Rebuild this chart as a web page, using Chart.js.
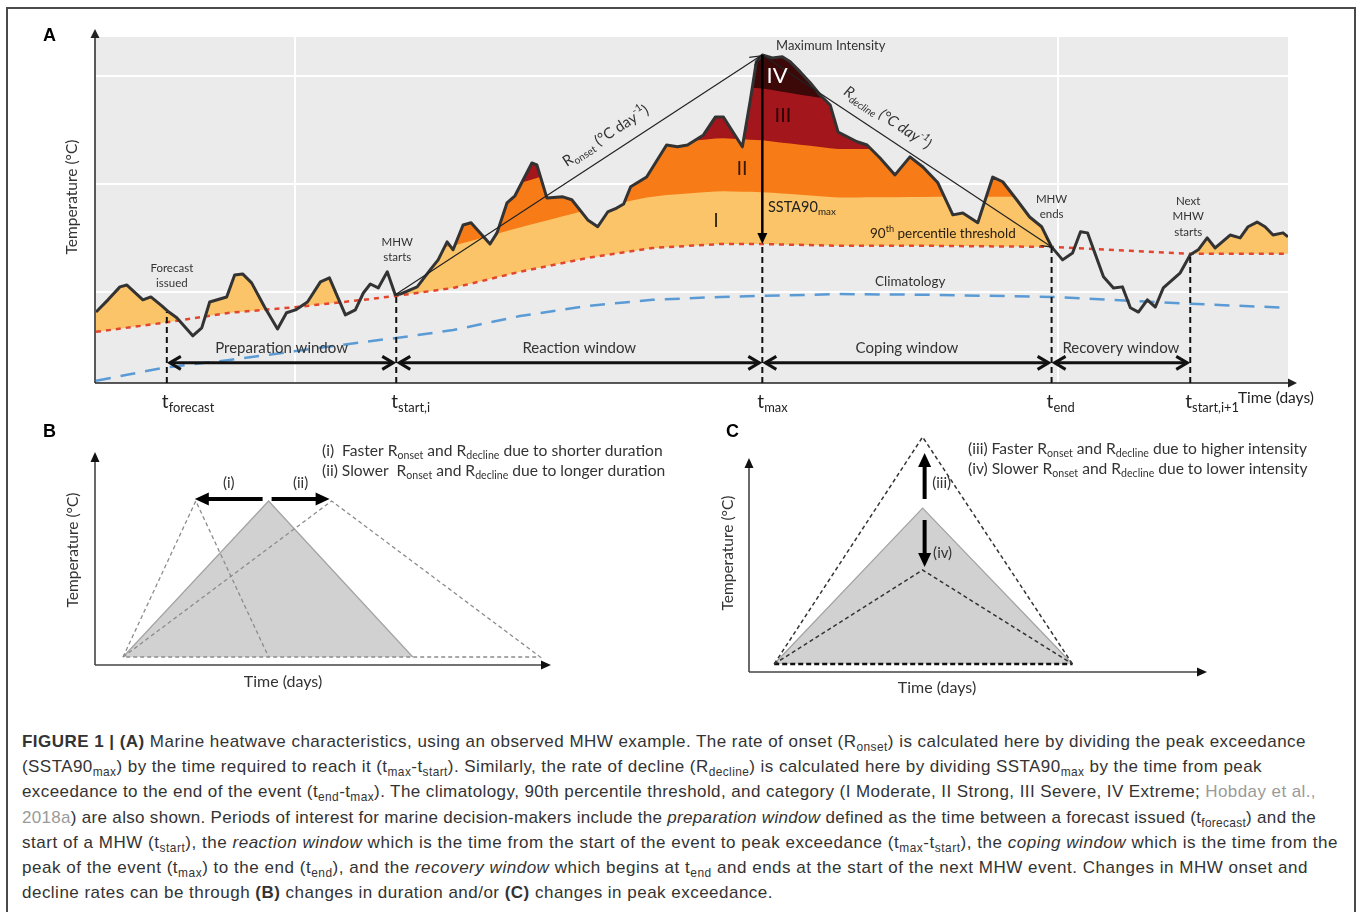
<!DOCTYPE html>
<html>
<head>
<meta charset="utf-8">
<title>Marine heatwave characteristics</title>
<script src="https://cdn.jsdelivr.net/npm/chart.js@4.4.1/dist/chart.umd.min.js"></script>
<style>
  html, body { margin: 0; padding: 0; background: #fff; }
  body { width: 1358px; height: 912px; position: relative; overflow: hidden; font-family: "Liberation Sans", Arial, sans-serif; }
  #frame { position: absolute; left: 6px; top: 7px; width: 1346px; height: 930px; border: 2px solid #4a4a4a; }
  canvas { position: absolute; }
  #chartA { left: 0; top: 0; }
  #chartB { left: 0; top: 420px; }
  #chartC { left: 680px; top: 420px; }
  #caption { position: absolute; left: 22px; top: 729px; font-size: 17px; line-height: 25.2px; color: #333; }
  #caption .ln { display: block; white-space: nowrap; }
  #caption .ln span.t { display: inline-block; }
  #caption sub { font-size: 0.7em; vertical-align: -0.3em; line-height: 0; }
  #caption .ref { color: #9a9a9a; }
</style>
</head>
<body>
<div id="frame"></div>
<canvas id="chartA" width="1358" height="420"></canvas>
<canvas id="chartB" width="680" height="290"></canvas>
<canvas id="chartC" width="678" height="290"></canvas>
<div id="caption">
  <div class="ln"><span class="t"><b>FIGURE 1 | (A)</b> Marine heatwave characteristics, using an observed MHW example. The rate of onset (R<sub>onset</sub>) is calculated here by dividing the peak exceedance</span></div>
  <div class="ln"><span class="t">(SSTA90<sub>max</sub>) by the time required to reach it (t<sub>max</sub>-t<sub>start</sub>). Similarly, the rate of decline (R<sub>decline</sub>) is calculated here by dividing SSTA90<sub>max</sub> by the time from peak</span></div>
  <div class="ln"><span class="t">exceedance to the end of the event (t<sub>end</sub>-t<sub>max</sub>). The climatology, 90th percentile threshold, and category (I Moderate, II Strong, III Severe, IV Extreme; <span class="ref">Hobday et al.,</span></span></div>
  <div class="ln"><span class="t"><span class="ref">2018a</span>) are also shown. Periods of interest for marine decision-makers include the <i>preparation window</i> defined as the time between a forecast issued (t<sub>forecast</sub>) and the</span></div>
  <div class="ln"><span class="t">start of a MHW (t<sub>start</sub>), the <i>reaction window</i> which is the time from the start of the event to peak exceedance (t<sub>max</sub>-t<sub>start</sub>), the <i>coping window</i> which is the time from the</span></div>
  <div class="ln"><span class="t">peak of the event (t<sub>max</sub>) to the end (t<sub>end</sub>), and the <i>recovery window</i> which begins at t<sub>end</sub> and ends at the start of the next MHW event. Changes in MHW onset and</span></div>
  <div class="ln"><span class="t">decline rates can be through <b>(B)</b> changes in duration and/or <b>(C)</b> changes in peak exceedance.</span></div>
</div>
<script>
  // ---- panel A: observed temperature series (days, °C) ----
  const tempDays = [0, 1.2, 2.4, 3.1, 4.7, 5.5, 6.6, 7.3, 8.1, 9.7, 10.6, 11.4, 13.1, 13.9, 14.7, 15.6, 16.9, 18.2,
    19.1, 20.0, 21.2, 22.5, 23.4, 25.0, 26.0, 26.8, 27.5, 28.3, 29.2, 30.0, 30.5, 32.2, 33.5, 34.3, 35.2, 35.8,
    36.8, 37.6, 39.5, 40.2, 41.2, 42.0, 43.7, 44.2, 45.2, 46.8, 47.7, 49.3, 50.3, 51.3, 52.2, 52.9, 53.6, 55.2,
    57.2, 58.3, 59.3, 60.9, 62.1, 62.9, 64.8, 65.6, 66.2, 66.8, 67.8, 68.8, 69.6, 70.6, 71.6, 72.6, 73.6, 74.4,
    76.3, 77.3, 78.6, 80.1, 81.6, 82.9, 84.4, 85.9, 86.9, 88.4, 89.9, 90.9, 92.3, 93.6, 94.8, 95.8, 96.9, 97.9,
    98.7, 99.4, 101.0, 102.0, 102.9, 103.7, 104.5, 105.4, 106.2, 107.0, 108.7, 109.7, 110.5, 111.4, 112.2, 113.7,
    114.7, 115.5, 116.4, 117.2, 118.0, 119.0, 119.5];
  const tempVals = [14.44, 14.78, 15.14, 15.19, 14.78, 14.86, 14.61, 14.44, 14.28, 13.78, 14.0, 14.72, 14.86, 15.47, 15.5, 15.25, 14.58, 13.97,
    14.42, 14.5, 14.72, 15.28, 15.39, 14.36, 14.5, 14.97, 15.22, 15.11, 15.56, 14.92, 14.94, 15.14, 15.61, 15.89, 16.39, 16.17,
    16.86, 16.92, 16.33, 16.64, 17.47, 17.67, 18.58, 18.53, 17.61, 17.64, 17.56, 17.0, 16.81, 17.22, 17.33, 17.44, 17.92, 18.19,
    19.08, 19.03, 19.08, 19.36, 19.86, 19.86, 19.03, 20.33, 21.39, 21.58, 21.5, 21.53, 21.39, 21.11, 20.81, 20.47, 20.19, 19.44,
    19.17, 19.08, 18.72, 18.25, 18.75, 18.47, 18.03, 17.14, 17.19, 16.92, 18.19, 18.06, 17.56, 17.08, 16.81, 16.25, 15.89, 16.08,
    16.67, 16.64, 15.42, 15.11, 15.14, 14.56, 14.44, 14.78, 14.58, 15.11, 15.53, 16.03, 16.17, 16.5, 16.22, 16.58,
    16.5, 16.81, 16.94, 16.81, 16.58, 16.64, 16.53];

  // climatology and 90th percentile threshold, read on a shared day grid
  const climDays = [0, 6.7, 13.4, 20.1, 26.8, 30.1, 35.8, 42.5, 49.2, 55.8, 62.6, 66.8, 74.6, 83.6, 95.8, 103.7, 109.7, 119.5];
  const threshVals = [13.89, 14.14, 14.42, 14.58, 14.78, 14.89, 15.11, 15.56, 15.94, 16.22, 16.33, 16.33, 16.28, 16.28, 16.25, 16.14, 16.06, 16.06];
  const climVals = [12.53, 12.89, 13.11, 13.36, 13.61, 13.72, 13.94, 14.33, 14.61, 14.78, 14.86, 14.89, 14.94, 14.92, 14.86, 14.75, 14.67, 14.56];

  // periods shaded as exceedance (days)
  const fillRanges = [[0, 8.2], [10.6, 18.3], [19.1, 25.0], [29.9, 97.0], [109.6, 119.6]];
  // category I (moderate) .. IV (extreme)
  const catColors = ['#fcc468', '#f77b17', '#a3161b', '#3c0808'];

  // event times, labels and where their dashed markers stop (°C)
  const eventDays = [7.1, 30.1, 66.8, 95.8, 109.7];
  const eventSubs = ['forecast', 'start,i', 'max', 'end', 'start,i+1'];
  const markerTops = [14.44, 14.89, 16.33, 16.25, 16.06];
  const windowNames = ['Preparation window', 'Reaction window', 'Coping window', 'Recovery window'];
  const windowLevel = 13.03;
  const gridDays = [20, 96.4];
  const gridTemps = [15, 18, 21];

  // ---- panel B: duration change (days, °C) ----
  const bShortDays = [2, 7.2, 12.4];
  const bMainDays = [2, 12.4, 22.7];
  const bLongDays = [2, 16.9, 31.8];
  const bTemps = [0.4, 8.2, 0.4];

  // ---- panel C: intensity change ----
  const cDays = [1.8, 12.4, 23.1];
  const cMainTemps = [0.4, 8.2, 0.4];
  const cHighTemps = [0.4, 11.75, 0.4];
  const cLowTemps = [0.4, 5.1, 0.4];

  const FONT = 'Lato, "Open Sans", sans-serif';
  Chart.defaults.font.family = FONT;

  function seg(ctx, x1, y1, x2, y2) {
    ctx.beginPath();
    ctx.moveTo(x1, y1);
    ctx.lineTo(x2, y2);
    ctx.stroke();
  }

  function head(ctx, x, y, ang, len, half, filled) {
    const c = Math.cos(ang), s = Math.sin(ang);
    ctx.beginPath();
    ctx.moveTo(x - len * c - half * s, y - len * s + half * c);
    ctx.lineTo(x, y);
    ctx.lineTo(x - len * c + half * s, y - len * s - half * c);
    if (filled) {
      ctx.closePath();
      ctx.fill();
    } else {
      ctx.stroke();
    }
  }

  // text with sub/superscripts: parts = ['text', ['sub text', 'sub'], ...]
  function richText(ctx, parts, x, y, size, opts = {}) {
    const segs = parts.map((p) => {
      const [t, k] = typeof p === 'string' ? [p, ''] : p;
      const s = k ? size * 0.68 : size;
      const font = [opts.style, opts.weight, s + 'px', opts.family || FONT].filter(Boolean).join(' ');
      ctx.font = font;
      return { t, font, w: ctx.measureText(t).width, dy: k === 'sub' ? size * 0.32 : k === 'sup' ? -size * 0.36 : 0 };
    });
    const total = segs.reduce((a, g) => a + g.w, 0);
    let cx = opts.align === 'center' ? x - total / 2 : opts.align === 'right' ? x - total : x;
    ctx.textAlign = 'left';
    ctx.textBaseline = 'middle';
    ctx.fillStyle = opts.color || '#333';
    segs.forEach((g) => {
      ctx.font = g.font;
      ctx.fillText(g.t, cx, y + g.dy);
      cx += g.w;
    });
    return total;
  }

  function rotatedText(ctx, parts, x, y, ang, size, opts = {}) {
    ctx.save();
    ctx.translate(x, y);
    ctx.rotate(ang);
    richText(ctx, parts, 0, 0, size, Object.assign({ align: 'center' }, opts));
    ctx.restore();
  }

  function drawAxes(chart, topVal) {
    const { ctx, chartArea: a, scales } = chart;
    const top = scales.y.getPixelForValue(topVal);
    ctx.strokeStyle = '#444';
    ctx.fillStyle = '#111';
    ctx.lineWidth = 1.6;
    seg(ctx, a.left, a.bottom, a.left, top + 6);
    head(ctx, a.left, top, -Math.PI / 2, 10, 4.5, true);
    seg(ctx, a.left, a.bottom, a.right - 6, a.bottom);
    head(ctx, a.right, a.bottom, 0, 10, 4.5, true);
  }

  // ---------------- Panel A ----------------
  const inFill = (d) => fillRanges.some(([a, b]) => d >= a && d <= b);
  const tempPts = tempDays.map((d, i) => ({ x: d, y: tempVals[i] }));
  const threshPts = climDays.map((d, i) => ({ x: d, y: threshVals[i] }));
  const climPts = climDays.map((d, i) => ({ x: d, y: climVals[i] }));

  // value of a piecewise-linear series at x
  function at(xs, ys, x) {
    let i = 1;
    while (i < xs.length - 1 && xs[i] < x) i++;
    const f = (x - xs[i - 1]) / (xs[i] - xs[i - 1]);
    return ys[i - 1] + f * (ys[i] - ys[i - 1]);
  }
  // category k lower edge = threshold + k * (threshold - climatology)
  function level(k, x) {
    const t = at(climDays, threshVals, x);
    return t + k * (t - at(climDays, climVals, x));
  }
  // top = temperature where it exceeds the category edge, base = category edge
  function band(k) {
    const top = [];
    const base = [];
    const push = (x, y) => {
      const b = level(k, x);
      top.push({ x, y: inFill(x) ? Math.max(y, b) : null });
      base.push({ x, y: b });
    };
    tempDays.forEach((d, i) => {
      push(d, tempVals[i]);
      if (i + 1 < tempDays.length) {
        const d2 = tempDays[i + 1];
        const e1 = tempVals[i] - level(k, d);
        const e2 = tempVals[i + 1] - level(k, d2);
        if (e1 * e2 < 0) {
          const f = e1 / (e1 - e2);
          push(d + f * (d2 - d), tempVals[i] + f * (tempVals[i + 1] - tempVals[i]));
        }
      }
    });
    return { top, base };
  }

  const clear = 'rgba(0,0,0,0)';
  const bandSets = [3, 2, 1, 0].flatMap((k) => {
    const b = band(k);
    return [
      { data: b.top, borderColor: clear, borderWidth: 1, backgroundColor: catColors[k], fill: '+1' },
      { data: b.base, borderColor: clear, borderWidth: 1, fill: false },
    ];
  });

  const peakVal = Math.max(...tempVals);
  const peakDay = tempDays[tempVals.indexOf(peakVal)];
  const startIdx = tempDays.reduce((b, d, i) => (Math.abs(d - eventDays[1]) < Math.abs(tempDays[b] - eventDays[1]) ? i : b), 0);

  const panelA = {
    id: 'panelA',
    beforeDraw(chart) {
      const { ctx, chartArea: a } = chart;
      ctx.save();
      ctx.fillStyle = '#ebebeb';
      ctx.fillRect(a.left, a.top, a.right - a.left, a.bottom - a.top);
      ctx.restore();
    },
    afterDatasetsDraw(chart) {
      const { ctx, chartArea: a, scales } = chart;
      const X = (v) => scales.x.getPixelForValue(v);
      const Y = (v) => scales.y.getPixelForValue(v);
      ctx.save();

      // axes with arrows
      ctx.strokeStyle = '#222';
      ctx.fillStyle = '#222';
      ctx.lineWidth = 1.5;
      seg(ctx, a.left - 1, a.bottom, a.left - 1, a.top - 4);
      head(ctx, a.left - 1, a.top - 8, -Math.PI / 2, 9, 4.5, true);
      seg(ctx, a.left - 1, a.bottom, a.right + 4, a.bottom);
      head(ctx, a.right + 9, a.bottom, 0, 9, 4.5, true);

      // dashed event markers
      ctx.strokeStyle = '#111';
      ctx.lineWidth = 2;
      ctx.setLineDash([6, 4]);
      eventDays.forEach((d, i) => seg(ctx, X(d), a.bottom, X(d), Y(markerTops[i])));
      ctx.setLineDash([]);

      // windows
      const wy = Y(windowLevel);
      ctx.lineWidth = 3;
      windowNames.forEach((name, i) => {
        const x1 = X(eventDays[i]) + 3;
        const x2 = X(eventDays[i + 1]) - 3;
        seg(ctx, x1, wy, x2, wy);
        head(ctx, x1, wy, Math.PI, 11, 6.5, false);
        head(ctx, x2, wy, 0, 11, 6.5, false);
        richText(ctx, [name], (x1 + x2) / 2, wy - 15, 15, { align: 'center' });
      });

      // onset / decline rates
      const p0 = { x: X(tempDays[startIdx]), y: Y(tempVals[startIdx]) };
      const pk = { x: X(peakDay), y: Y(peakVal) };
      const pe = { x: X(eventDays[3]), y: Y(markerTops[3]) };
      ctx.lineWidth = 1.2;
      ctx.strokeStyle = '#222';
      const aOn = Math.atan2(pk.y - p0.y, pk.x - p0.x);
      const aDe = Math.atan2(pe.y - pk.y, pe.x - pk.x);
      seg(ctx, p0.x, p0.y, pk.x - 2, pk.y + 1);
      head(ctx, pk.x - 2, pk.y + 1, aOn, 10, 5, false);
      seg(ctx, pk.x, pk.y, pe.x, pe.y);
      head(ctx, pe.x, pe.y, aDe, 10, 5, false);

      const lab = (pa, pb, f, off) => {
        const ang = Math.atan2(pb.y - pa.y, pb.x - pa.x);
        return { x: pa.x + f * (pb.x - pa.x) + Math.sin(ang) * off, y: pa.y + f * (pb.y - pa.y) - Math.cos(ang) * off, ang };
      };
      const lOn = lab(p0, pk, 0.6, 18);
      rotatedText(ctx, ['R', ['onset', 'sub'], ' (°C day', ['-1', 'sup'], ')'], lOn.x, lOn.y, lOn.ang, 15);
      const lDe = lab(pk, pe, 0.4, 17);
      rotatedText(ctx, ['R', ['decline', 'sub'], ' (°C day', ['-1', 'sup'], ')'], lDe.x, lDe.y, lDe.ang, 15, { style: 'italic' });

      // peak exceedance arrow
      const tx = X(eventDays[2]);
      const ty = Y(markerTops[2]);
      ctx.lineWidth = 2.5;
      ctx.strokeStyle = '#000';
      ctx.fillStyle = '#000';
      seg(ctx, tx, pk.y, tx, ty - 8);
      head(ctx, tx, ty, Math.PI / 2, 11, 5, true);

      // texts
      richText(ctx, ['A'], 43, 36, 18, { weight: 'bold', family: '"Liberation Sans", Arial', color: '#000' });
      ctx.save();
      ctx.translate(72, 197);
      ctx.rotate(-Math.PI / 2);
      richText(ctx, ['Temperature (°C)'], 0, 0, 15.5, { align: 'center' });
      ctx.restore();

      richText(ctx, ['Maximum Intensity'], 776, 46, 13);
      richText(ctx, ['IV'], 777, 76, 22, { align: 'center', color: '#fff' });
      richText(ctx, ['III'], 783, 116, 20, { align: 'center', color: '#2b0404' });
      richText(ctx, ['II'], 742, 169, 20, { align: 'center', color: '#3a1a05' });
      richText(ctx, ['I'], 716, 221, 20, { align: 'center', color: '#3a2a10' });
      richText(ctx, ['SSTA90', ['max', 'sub']], 768, 207, 14.5, { color: '#222' });
      richText(ctx, ['90', ['th', 'sup'], ' percentile threshold'], 870, 234, 13.5, { color: '#2a2010' });
      richText(ctx, ['Climatology'], 875, 282, 13.5);

      const small = (lines, x, y0) => lines.forEach((t, i) => richText(ctx, [t], x, y0 + i * 15.5, 11.5, { align: 'center' }));
      small(['Forecast', 'issued'], X(eventDays[0]) + 5, 268);
      small(['MHW', 'starts'], X(eventDays[1]) + 1, 242);
      small(['MHW', 'ends'], X(eventDays[3]), 199);
      small(['Next', 'MHW', 'starts'], X(eventDays[4]) - 2, 201);

      eventDays.forEach((d, i) => richText(ctx, ['t', [eventSubs[i], 'sub']], X(d) - 5, 402, 19, { color: '#222' }));
      richText(ctx, ['Time (days)'], 1238, 398, 15.5, { color: '#222' });
      ctx.restore();
    },
  };

  new Chart(document.getElementById('chartA'), {
    type: 'line',
    data: {
      datasets: [
        { data: tempPts, borderColor: '#333', borderWidth: 3, borderJoinStyle: 'round', fill: false },
        { data: threshPts, borderColor: '#e2462e', borderWidth: 2.5, borderDash: [5, 5], fill: false },
        { data: climPts, borderColor: '#5b9bd5', borderWidth: 2.5, borderDash: [15, 10], fill: false },
        ...bandSets,
      ],
    },
    options: {
      responsive: false,
      animation: false,
      devicePixelRatio: 1,
      layout: { padding: { left: 96, right: 70, top: 37, bottom: 37 } },
      elements: { point: { radius: 0 }, line: { tension: 0 } },
      plugins: { legend: { display: false }, tooltip: { enabled: false } },
      scales: {
        x: {
          type: 'linear', min: 0, max: 119.5,
          afterBuildTicks: (s) => { s.ticks = gridDays.map((v) => ({ value: v })); },
          afterFit: (s) => { s.height = 0; },
          ticks: { display: false },
          grid: { color: '#fff', lineWidth: 2, drawTicks: false },
          border: { display: false },
        },
        y: {
          type: 'linear', min: 12.47, max: 22.08,
          afterBuildTicks: (s) => { s.ticks = gridTemps.map((v) => ({ value: v })); },
          afterFit: (s) => { s.width = 0; },
          ticks: { display: false },
          grid: { color: '#fff', lineWidth: 2, drawTicks: false },
          border: { display: false },
        },
      },
    },
    plugins: [panelA],
  });

  // ---------------- Panels B and C ----------------
  const pts = (xs, ys) => xs.map((x, i) => ({ x, y: ys[i] }));
  const hiddenScales = (xmax, ymax) => ({
    x: { type: 'linear', min: 0, max: xmax, display: false },
    y: { type: 'linear', min: 0, max: ymax, display: false },
  });
  const baseOpts = (padding, xmax, ymax) => ({
    responsive: false,
    animation: false,
    devicePixelRatio: 1,
    layout: { padding },
    elements: { point: { radius: 0 }, line: { tension: 0 } },
    plugins: { legend: { display: false }, tooltip: { enabled: false } },
    scales: hiddenScales(xmax, ymax),
  });

  const panelB = {
    id: 'panelB',
    afterDatasetsDraw(chart) {
      const { ctx, scales } = chart;
      const X = (v) => scales.x.getPixelForValue(v);
      const Y = (v) => scales.y.getPixelForValue(v);
      ctx.save();
      drawAxes(chart, scales.y.max);
      const ay = Y(bTemps[1]) - 2;
      const mx = X(bMainDays[1]);
      ctx.strokeStyle = '#000';
      ctx.fillStyle = '#000';
      ctx.lineWidth = 4;
      const lx = X(bShortDays[1]) - 1;
      const rx = X(bLongDays[1]) - 2;
      seg(ctx, mx - 6, ay, lx + 10, ay);
      head(ctx, lx, ay, Math.PI, 14, 6.5, true);
      seg(ctx, mx + 3, ay, rx - 10, ay);
      head(ctx, rx, ay, 0, 14, 6.5, true);
      richText(ctx, ['(i)'], (mx - 6 + lx) / 2, ay - 16, 15, { align: 'center' });
      richText(ctx, ['(ii)'], (mx + 3 + rx) / 2, ay - 16, 15, { align: 'center' });

      richText(ctx, ['B'], 43, 12, 18, { weight: 'bold', family: '"Liberation Sans", Arial', color: '#000' });
      richText(ctx, ['(i)  Faster R', ['onset', 'sub'], ' and R', ['decline', 'sub'], ' due to shorter duration'], 322, 31, 15.6);
      richText(ctx, ['(ii) Slower  R', ['onset', 'sub'], ' and R', ['decline', 'sub'], ' due to longer duration'], 322, 51, 15.6);
      richText(ctx, ['Time (days)'], 283, 262, 16, { align: 'center' });
      ctx.translate(73, 130);
      ctx.rotate(-Math.PI / 2);
      richText(ctx, ['Temperature (°C)'], 0, 0, 15.5, { align: 'center' });
      ctx.restore();
    },
  };

  new Chart(document.getElementById('chartB'), {
    type: 'line',
    data: {
      datasets: [
        { data: pts(bShortDays, bTemps), borderColor: '#8c8c8c', borderWidth: 1.3, borderDash: [4, 3], fill: false },
        { data: pts(bLongDays.concat([bLongDays[0]]), bTemps.concat([bTemps[0]])), borderColor: '#8c8c8c', borderWidth: 1.3, borderDash: [4, 3], fill: false },
        { data: pts(bMainDays, bTemps), borderColor: '#a3a3a3', borderWidth: 1.2, backgroundColor: '#d2d1d1', fill: { value: bTemps[0] } },
      ],
    },
    options: baseOpts({ left: 95, right: 129, top: 32, bottom: 45 }, 32.57, 10.65),
    plugins: [panelB],
  });

  const panelC = {
    id: 'panelC',
    afterDatasetsDraw(chart) {
      const { ctx, scales } = chart;
      const X = (v) => scales.x.getPixelForValue(v);
      const Y = (v) => scales.y.getPixelForValue(v);
      ctx.save();
      drawAxes(chart, 10.7);
      const ax = X(cDays[1]) + 2;
      ctx.strokeStyle = '#000';
      ctx.fillStyle = '#000';
      ctx.lineWidth = 4;
      const upFrom = Y(cMainTemps[1]) - 9;
      const upTip = Y(cHighTemps[1]) + 16;
      seg(ctx, ax, upFrom, ax, upTip + 10);
      head(ctx, ax, upTip, -Math.PI / 2, 14, 6.5, true);
      const dnFrom = Y(cMainTemps[1]) + 12;
      const dnTip = Y(cLowTemps[1]) - 3;
      seg(ctx, ax, dnFrom, ax, dnTip - 10);
      head(ctx, ax, dnTip, Math.PI / 2, 14, 6.5, true);
      richText(ctx, ['(iii)'], ax + 17, (upFrom + upTip) / 2 + 7, 15, { align: 'center' });
      richText(ctx, ['(iv)'], ax + 18, (dnFrom + dnTip) / 2 + 10, 15, { align: 'center' });

      richText(ctx, ['C'], 46, 12, 18, { weight: 'bold', family: '"Liberation Sans", Arial', color: '#000' });
      richText(ctx, ['(iii) Faster R', ['onset', 'sub'], ' and R', ['decline', 'sub'], ' due to higher intensity'], 288, 29, 15.6);
      richText(ctx, ['(iv) Slower R', ['onset', 'sub'], ' and R', ['decline', 'sub'], ' due to lower intensity'], 288, 49, 15.6);
      richText(ctx, ['Time (days)'], 257, 268, 16, { align: 'center' });
      ctx.translate(48, 133);
      ctx.rotate(-Math.PI / 2);
      richText(ctx, ['Temperature (°C)'], 0, 0, 15.5, { align: 'center' });
      ctx.restore();
    },
  };

  new Chart(document.getElementById('chartC'), {
    type: 'line',
    data: {
      datasets: [
        { data: pts(cDays, cLowTemps), borderColor: '#333', borderWidth: 1.5, borderDash: [4, 3], fill: false },
        { data: pts(cDays, cHighTemps), borderColor: '#333', borderWidth: 1.5, borderDash: [4, 3], fill: false },
        { data: pts([cDays[0], cDays[2]], [cMainTemps[0], cMainTemps[2]]), borderColor: '#111', borderWidth: 2.5, borderDash: [5, 3], fill: false },
        { data: pts(cDays, cMainTemps), borderColor: '#a3a3a3', borderWidth: 1.2, backgroundColor: '#d2d1d1', fill: { value: cMainTemps[0] } },
      ],
    },
    options: baseOpts({ left: 69, right: 151, top: 10, bottom: 38 }, 32.71, 12.1),
    plugins: [panelC],
  });

  // caption: fit each line to the width it has in the figure
  const lineEnds = [1306, 1262, 1316, 1316, 1338, 1308, 773];
  document.querySelectorAll('#caption .t').forEach((el, i) => {
    const w = el.getBoundingClientRect().width;
    const n = el.textContent.length;
    el.style.letterSpacing = ((lineEnds[i] - 22 - w) / n) + 'px';
  });
</script>
</body>
</html>
